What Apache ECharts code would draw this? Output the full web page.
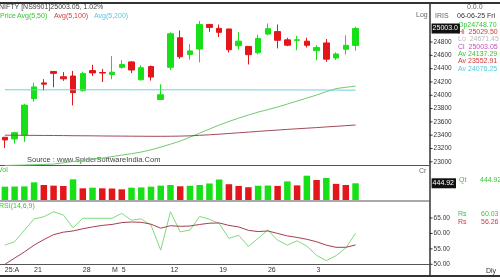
<!DOCTYPE html>
<html><head><meta charset="utf-8">
<script src="https://cdn.jsdelivr.net/npm/echarts@6/dist/echarts.min.js"></script>
<style>html,body{margin:0;padding:0;background:#fff}#c{width:500px;height:280px}</style>
</head><body><div id="c"></div>
<script>
const dates = ['2025-04-15','2025-04-16','2025-04-17','2025-04-21','2025-04-22','2025-04-23','2025-04-24','2025-04-25','2025-04-28','2025-04-29','2025-04-30','2025-05-02','2025-05-05','2025-05-06','2025-05-07','2025-05-08','2025-05-09','2025-05-12','2025-05-13','2025-05-14','2025-05-15','2025-05-16','2025-05-19','2025-05-20','2025-05-21','2025-05-22','2025-05-23','2025-05-26','2025-05-27','2025-05-28','2025-05-29','2025-05-30','2025-06-02','2025-06-03','2025-06-04','2025-06-05','2025-06-06'];
const dateLabels = ['25:A','','','21','','','','','28','','','M','5','','','','','12','','','','','19','','','','','26','','','','','3','','','',''];
const opens = [23368.35,23344.10,23401.85,23949.15,24185.40,24357.60,24277.90,24289.00,24070.25,24370.70,24342.05,24311.90,24419.50,24500.75,24233.30,24431.50,23935.75,24420.10,24864.05,24613.80,24694.45,25064.65,25005.35,24996.20,24744.25,24733.95,24639.50,24919.35,24956.65,24832.50,24825.10,24812.60,24669.70,24786.30,24560.45,24691.20,24748.70];
const closes = [23328.55,23437.20,23851.65,24125.55,24167.25,24328.95,24246.70,24039.35,24328.50,24335.95,24334.20,24346.70,24461.15,24379.60,24414.40,24273.80,24008.00,24924.70,24578.35,24666.90,25062.10,25019.80,24945.45,24683.90,24813.45,24609.70,24853.15,25001.15,24826.20,24752.45,24833.60,24750.70,24716.60,24542.50,24620.20,24750.90,25003.05];
const lows = [23207.00,23273.05,23298.55,23903.65,24072.00,24119.95,24216.15,23847.85,24054.05,24290.75,24198.75,24238.50,24400.65,24331.80,24220.00,24220.00,23935.50,24378.85,24547.50,24535.55,24494.45,24953.05,24875.10,24642.75,24685.35,24462.40,24614.05,24900.50,24704.10,24737.05,24677.30,24717.40,24526.15,24502.15,24530.45,24613.65,24671.45];
const highs = [23368.35,23452.20,23872.35,24189.55,24242.60,24359.30,24347.85,24365.45,24355.10,24457.65,24396.15,24589.15,24526.40,24509.65,24449.60,24447.25,24164.25,24944.80,24973.80,24767.55,25116.25,25070.00,25062.95,24996.20,24946.20,24737.50,24909.05,25079.20,25062.90,24864.25,24892.60,24863.95,24754.40,24845.10,24644.25,24899.85,25029.50];
const ma50 = [22945,22948,22952,22956,22960,22966,22985,23005,23025,23040,23055,23078,23100,23122,23146,23180,23220,23265,23311,23370,23432,23492,23552,23605,23657,23702,23747,23785,23823,23868,23913,23958,24003,24055,24100,24120,24137.29];
const ma100 = [23400,23399,23398,23397,23396,23395,23394,23392,23391,23390,23388,23387,23386,23385,23384,23383,23383,23384,23386,23390,23398,23406,23415,23425,23436,23446,23457,23467,23477,23487,23496,23505,23514,23524,23533,23543,23552.91];
const ma200 = [24082,24082,24082,24082,24082,24082,24082,24082,24082,24082,24082,24082,24082,24082,24082,24082,24082,24082,24082,24082,24082,24081,24081,24081,24081,24081,24080,24080,24080,24080,24080,24079,24079,24078,24078,24077,24076.25];
const volume = [355,358,362,470,400,382,373,550,311,328,311,305,284,328,335,355,382,400,365,378,400,440,545,420,375,340,380,385,375,495,390,647,532,585,430,400,444.92];
const rsi = [56.2,57.3,61.0,64.7,65.4,67.0,66.0,61.8,64.9,64.9,64.9,64.9,66.5,64.3,64.7,62.7,54.6,67.0,60.5,61.1,65.5,64.6,63.2,58.4,59.4,55.8,58.4,61.1,57.8,56.2,57.6,55.9,52.9,51.2,52.8,55.3,60.03];
const rsiSignal = [50.0,52.0,54.0,56.2,58.0,59.6,60.4,60.8,61.5,62.1,62.6,62.9,63.5,63.7,63.6,63.0,61.7,62.5,62.3,62.4,62.9,63.3,63.4,62.6,62.1,61.0,60.6,60.8,60.0,59.2,58.7,58.1,57.3,56.2,55.5,55.5,56.26];
const priceTicks = [23000,23200,23400,23600,23800,24000,24200,24400,24600,24800];
const rsiTicks = [50,55,60,65];

const GREEN = '#18e018', RED = '#e3161c';
const FONT = 'Liberation Sans';
const categories = dates.concat(new Array(7).fill(''));
const n = dates.length;
const ohlc = dates.map((d,i)=>[opens[i],closes[i],lows[i],highs[i]]);
const volColors = volume.map((v,i)=> (i===0 || v>=volume[i-1]) ? GREEN : RED);
const last = n-1;
const pct = ((closes[last]/closes[last-1]-1)*100).toFixed(2);
const dd = dates[last].split('-');
const dayName = ['Sun','Mon','Tue','Wed','Thu','Fri','Sat'][new Date(dates[last]+'T00:00:00').getDay()];
const lastDateTxt = dd[2]+'-'+dd[1]+'-'+dd[0].slice(2)+' '+dayName;

const chart = echarts.init(document.getElementById('c'), null, {renderer:'canvas'});
const tickRich = {t:{width:3,height:1,backgroundColor:'#333'}, v:{fontSize:6.5,fontFamily:FONT,color:'#333',padding:[0,0,0,1]}};
const gridL = -1.4, gridW = 430;
function txt(x,y,s,color,size){return {type:'text',x:x,y:y,silent:true,style:{text:s,fill:color||'#333',font:(size||7)+'px "'+FONT+'"',textVerticalAlign:'middle',textAlign:'left'}};}
function ln(x1,y1,x2,y2,w,c){return {type:'line',silent:true,shape:{x1,y1,x2,y2},style:{stroke:c||'#333',lineWidth:w||1}};}
const boxLabel = {show:true, position:'end', distance:3, color:'#fff', backgroundColor:'#111', fontSize:7, fontFamily:FONT, padding:[2,2,1,1]};

const option = {
  animation:false,
  backgroundColor:'#fff',
  grid:[
    {left:gridL, width:gridW, top:2.1, height:173},
    {left:gridL, width:gridW, top:166, height:34},
    {left:gridL, width:gridW, top:201, height:63.3}
  ],
  xAxis:[
    {type:'category', gridIndex:0, data:categories, show:false},
    {type:'category', gridIndex:1, data:categories, show:false},
    {type:'category', gridIndex:2, data:categories,
     axisLine:{lineStyle:{color:'#555',width:1}}, axisTick:{show:false},
     axisLabel:{interval:0, align:'left', margin:2, fontSize:7, fontFamily:FONT, color:'#333',
       formatter:(v,i)=> dateLabels[i]||''}}
  ],
  yAxis:[
    {type:'value', gridIndex:0, position:'right', min:22800, max:25400, interval:200, scale:true,
     splitLine:{show:false}, axisLine:{show:false}, axisTick:{show:false},
     axisLabel:{margin:1, rich:tickRich, formatter:v=> priceTicks.indexOf(v)>=0 ? '{t|}{v|'+v+'}' : ''}},
    {type:'value', gridIndex:1, min:0, max:905, show:false},
    {type:'value', gridIndex:2, position:'right', min:50, max:70.5, interval:5,
     splitLine:{show:false}, axisLine:{show:false}, axisTick:{show:false},
     axisLabel:{margin:1, rich:tickRich, showMaxLabel:false, formatter:v=> rsiTicks.indexOf(v)>=0 ? '{t|}{v|'+v.toFixed(2)+'}' : ''}}
  ],
  series:[
    {type:'candlestick', xAxisIndex:0, yAxisIndex:0, data:ohlc, barWidth:6,
     itemStyle:{color:GREEN, color0:RED, borderColor:GREEN, borderColor0:RED, borderWidth:1},
     markLine:{silent:true, symbol:['none','none'], lineStyle:{color:'rgba(0,0,0,0)', width:0.01, type:'solid'},
       label:Object.assign({}, boxLabel, {formatter:()=>closes[last].toFixed(2).slice(0,7)}),
       data:[{yAxis:closes[last]}]}},
    {type:'line', xAxisIndex:0, yAxisIndex:0, data:ma50, symbol:'none', lineStyle:{color:'#72c972', width:1}},
    {type:'line', xAxisIndex:0, yAxisIndex:0, data:ma100, symbol:'none', lineStyle:{color:'#a24a58', width:1}},
    {type:'line', xAxisIndex:0, yAxisIndex:0, data:ma200, symbol:'none', lineStyle:{color:'#6fcfdc', width:1}},
    {type:'bar', xAxisIndex:1, yAxisIndex:1, data:volume.map((v,i)=>({value:v,itemStyle:{color:volColors[i]}})), barWidth:6.5,
     markLine:{silent:true, symbol:['none','none'], lineStyle:{color:'rgba(0,0,0,0)', width:0.01, type:'solid'},
       label:Object.assign({}, boxLabel, {formatter:()=>volume[last].toFixed(2)}),
       data:[{yAxis:volume[last]}]}},
    {type:'line', xAxisIndex:2, yAxisIndex:2, data:rsi, symbol:'none', lineStyle:{color:'#80da80', width:1}},
    {type:'line', xAxisIndex:2, yAxisIndex:2, data:rsiSignal, symbol:'none', lineStyle:{color:'#a53e50', width:1}}
  ],
  graphic:[
    ln(0,3,500,3,2,'#333'),
    ln(430,3,430,276,1.5,'#333'),
    ln(0,165.5,430,165.5,1,'#555'),
    ln(0,201,430,201,1,'#555'),
    ln(0,276,500,276,2,'#333'),
    txt(-1,7,'NIFTY [NS9901]'+closes[last].toFixed(2)+', '+pct+'%','#444'),
    txt(0,16,'Price','#33c833'),
    txt(17,16,'Avg(5,50)','#33c833'),
    txt(54,16,'Avg(5,100)','#d03838'),
    txt(94,16,'Avg(5,200)','#55c8e0'),
    txt(27,160,'Source : www.SpiderSoftwareIndia.Com','#444',7.5),
    txt(467,7,'0.0.0','#666'),
    txt(416,15,'Log','#666'),
    txt(435,16,'IRIS','#666'),
    txt(457,16,lastDateTxt,'#333'),
    txt(458,25,'Op'+opens[last].toFixed(2),'#33c833'),
    txt(458,32,'Hi  '+highs[last].toFixed(2),'#d03838'),
    txt(458,39.5,'Lo  '+lows[last].toFixed(2),'#bbbbbb'),
    txt(458,47,'Cl  '+closes[last].toFixed(2),'#c050c0'),
    txt(458,54.5,'Av '+ma50[last].toFixed(2),'#33c833'),
    txt(458,61.5,'Av '+ma100[last].toFixed(2),'#d03838'),
    txt(458,69,'Av '+ma200[last].toFixed(2),'#55c8e0'),
    txt(-2,170.5,'Vol','#33c833'),
    txt(419,171,'Cr','#666'),
    txt(459,180,'Qt','#33c833'),
    txt(480,180,volume[last].toFixed(2),'#33c833'),
    txt(-1,206.5,'RSI(14,6,9)','#33c833'),
    txt(458,214,'Rs','#33c833'),
    txt(481,214,rsi[last].toFixed(2),'#33c833'),
    txt(458,222,'Rs','#d03838'),
    txt(481,222,rsiSignal[last].toFixed(2),'#d03838'),
    txt(486,271,'Dly','#333')
  ]
};
chart.setOption(option);
</script></body></html>
